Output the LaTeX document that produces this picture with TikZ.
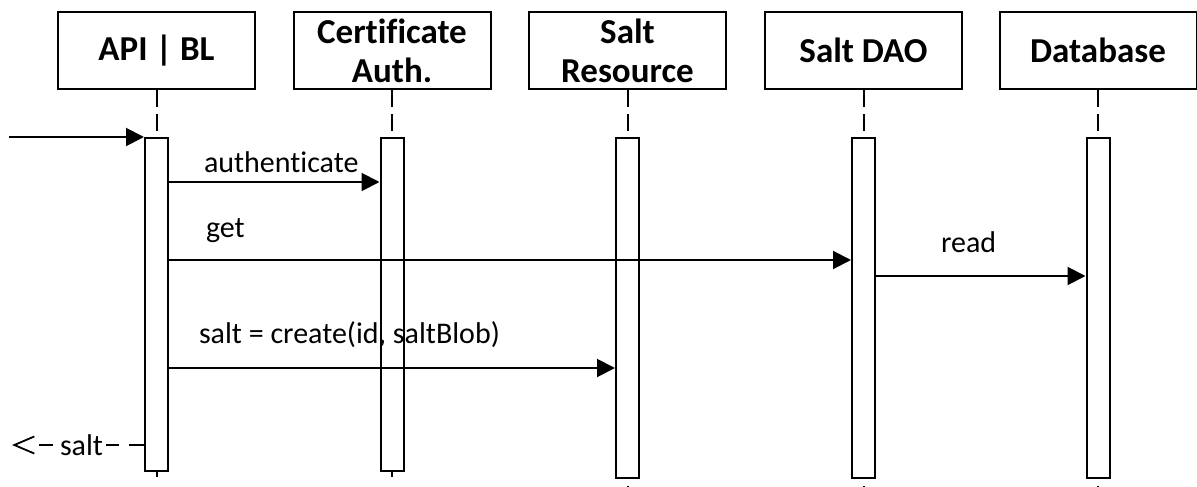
\documentclass[tikz,border=0pt]{standalone}
\usepackage{fontspec}
\setmainfont{Carlito}[Ligatures=NoCommon]
\usetikzlibrary{arrows.meta}
\begin{document}
\begin{tikzpicture}[x=1pt, y=-1pt, line width=2pt,
  head/.style={draw, minimum width=197pt, minimum height=77pt, inner sep=0pt,
    align=center, font=\fontsize{35}{39}\selectfont\bfseries},
  act/.style={draw, fill=white, minimum width=23pt, inner sep=0pt, anchor=north},
  life/.style={dash pattern=on 17pt off 7pt},
  msg/.style={-{Triangle[length=18pt, width=18pt]}},
  ret/.style={dash pattern=on 15pt off 10pt on 13pt off 53pt on 14pt off 30pt,
    -{Straight Barb[length=20pt, width=17pt, line width=1.8pt]}},
  lbl/.style={anchor=base west, inner sep=0pt, font=\fontsize{30}{36}\selectfont}]
\useasboundingbox (0,0) rectangle (1197,487);

% lifeline heads
\node[head] (h1) at (156.5,50.5) {API | BL};
\node[head] (h2) at (392,50.5) {Certificate\\Auth.};
\node[head] (h3) at (627.5,50.5) {Salt\\Resource};
\node[head] (h4) at (863.5,50.5) {Salt DAO};
\node[head] (h5) at (1098,50.5) {Database};

% dashed lifelines above the activations
\foreach \i in {1,...,5} {
  \coordinate (t\i) at ([yshift=-47pt]h\i.south);
  \draw[life] (h\i.south) -- (t\i);
}

% activation bars
\node[act, minimum height=333pt] (a1) at (t1) {};
\node[act, minimum height=333pt] (a2) at (t2) {};
\node[act, minimum height=340pt] (a3) at (t3) {};
\node[act, minimum height=340pt] (a4) at (t4) {};
\node[act, minimum height=340pt] (a5) at (t5) {};

% lifeline ends below the activations
\foreach \i in {1,2} {
  \coordinate (e\i) at ([yshift=-5pt]a\i.south);
  \draw (a\i.south) -- (e\i);
}
\foreach \i in {3,4,5} {
  \coordinate (e\i) at ([yshift=-13pt]a\i.south);
  \draw[dash pattern=on 17pt off 7pt, dash phase=17pt] (a\i.south) -- (e\i);
}

% message levels
\coordinate (yau)  at (0,182);
\coordinate (yget) at (0,260);
\coordinate (yrd)  at (0,276);
\coordinate (ycr)  at (0,368);
\coordinate (yret) at (0,445);

% incoming call
\coordinate (src) at ([xshift=-135pt]a1.north west);
\draw[msg] (src) -- (a1.north west);

% authenticate
\draw[msg] (a1.east |- yau) -- (a2.west |- yau);
\node[lbl] (l1) at (203,172) {authenticate};

% get
\draw[msg] (a1.east |- yget) -- (a4.west |- yget);
\node[lbl] (l2) at (205,237) {get};

% read
\draw[msg] (a4.east |- yrd) -- (a5.west |- yrd);
\node[lbl] (l3) at (940,252) {read};

% create
\draw[msg] (a1.east |- ycr) -- (a3.west |- ycr);
\node[lbl] (l4) at (198,343) {salt = create(id, saltBlob)};

% return
\coordinate (dst) at (12,445);
\draw[ret] (a1.west |- yret) -- (dst);
\node[lbl] (l5) at (59,455) {salt};
\end{tikzpicture}
\end{document}
